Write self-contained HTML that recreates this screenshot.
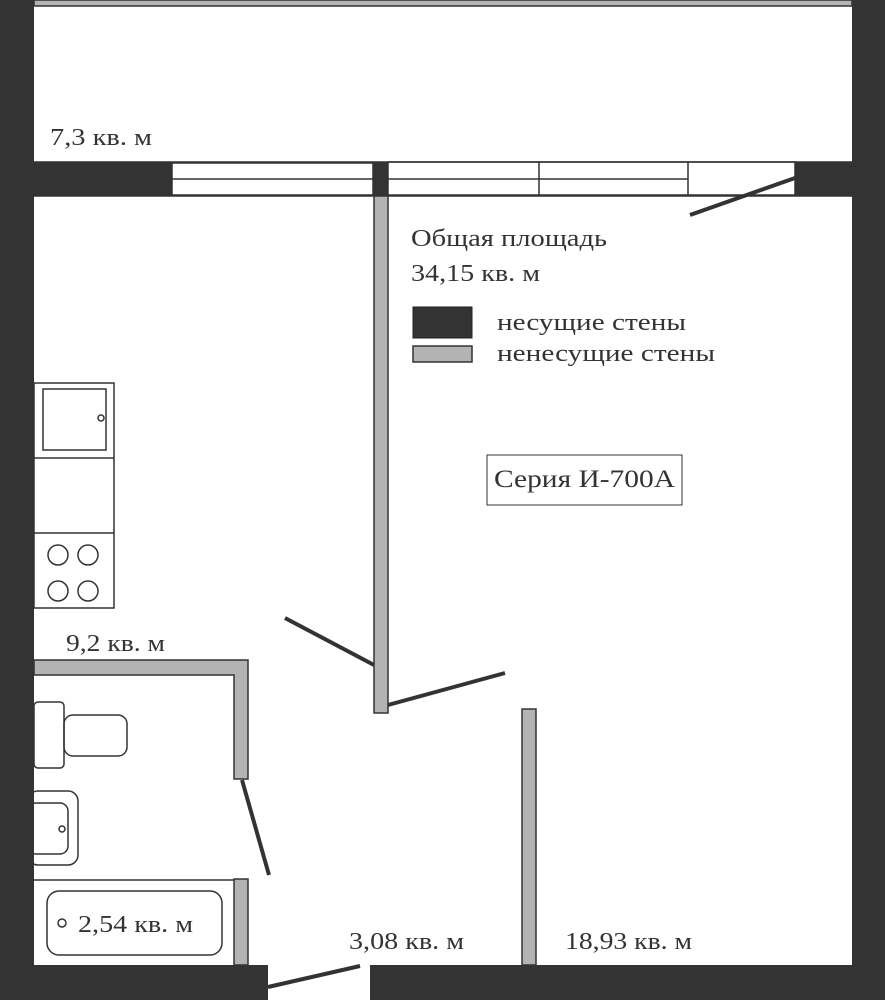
<!DOCTYPE html>
<html><head><meta charset="utf-8"><style>html,body{margin:0;padding:0;background:#fff}svg{display:block}text{font-family:"Liberation Serif",serif;fill:#333}</style></head><body>
<svg width="885" height="1000" viewBox="0 0 885 1000" xmlns="http://www.w3.org/2000/svg">
<rect width="885" height="1000" fill="#fff"/>
<rect x="34" y="0" width="818" height="6" fill="#b3b3b3" stroke="#333" stroke-width="1.5"/>
<rect x="0" y="0" width="34" height="1000" fill="#333"/>
<rect x="852" y="0" width="33" height="1000" fill="#333"/>
<rect x="34" y="162" width="138" height="34" fill="#333"/>
<rect x="795" y="162" width="57" height="34" fill="#333"/>
<rect x="373" y="162" width="15" height="34" fill="#333"/>
<g fill="#fff" stroke="#333" stroke-width="1.5">
<rect x="172" y="163" width="201" height="32"/>
<rect x="388" y="162" width="407" height="33"/>
</g>
<g stroke="#333" stroke-width="1.5">
<line x1="172" y1="179" x2="373" y2="179"/>
<line x1="388" y1="179" x2="688" y2="179"/>
<line x1="539" y1="162" x2="539" y2="195"/>
<line x1="688" y1="162" x2="688" y2="195"/>
<line x1="34" y1="162" x2="852" y2="162"/>
<line x1="34" y1="196" x2="852" y2="196"/>
</g>
<line x1="690" y1="215" x2="795" y2="178" stroke="#333" stroke-width="4"/>
<rect x="0" y="965" width="268" height="35" fill="#333"/>
<rect x="370" y="965" width="515" height="35" fill="#333"/>
<line x1="268" y1="987" x2="360" y2="966" stroke="#333" stroke-width="4"/>
<g fill="#b3b3b3" stroke="#333" stroke-width="1.5">
<rect x="374" y="196" width="14" height="517"/>
<rect x="522" y="709" width="14" height="256"/>
<path d="M34 660 H248 V779 H234 V675 H34 Z"/>
<rect x="234" y="879" width="14" height="86"/>
</g>
<g stroke="#333" stroke-width="4">
<line x1="285" y1="618" x2="374" y2="665"/>
<line x1="388" y1="705" x2="505" y2="673"/>
<line x1="242" y1="780" x2="269" y2="875"/>
</g>
<g fill="none" stroke="#333" stroke-width="1.5">
<rect x="34" y="383" width="80" height="225" fill="#fff"/>
<line x1="34" y1="458" x2="114" y2="458"/>
<line x1="34" y1="533" x2="114" y2="533"/>
<rect x="43" y="389" width="63" height="61"/>
<circle cx="101" cy="418" r="3"/>
<circle cx="58" cy="555" r="10"/>
<circle cx="88" cy="555" r="10"/>
<circle cx="58" cy="591" r="10"/>
<circle cx="88" cy="591" r="10"/>
<rect x="34" y="702" width="30" height="66" rx="4"/>
<rect x="64" y="715" width="63" height="41" rx="9"/>
<rect x="28" y="791" width="50" height="74" rx="10"/>
<rect x="28" y="803" width="40" height="51" rx="8"/>
<circle cx="62" cy="829" r="3"/>
<line x1="34" y1="880" x2="234" y2="880"/>
<rect x="47" y="891" width="175" height="64" rx="12"/>
<circle cx="62" cy="923" r="4"/>
</g>
<rect x="0" y="780" width="34" height="90" fill="#333"/>
<g font-size="24" lengthAdjust="spacingAndGlyphs">
<text x="50" y="145" textLength="102" lengthAdjust="spacingAndGlyphs">7,3 кв. м</text>
<text x="66" y="651" textLength="99" lengthAdjust="spacingAndGlyphs">9,2 кв. м</text>
<text x="78" y="932" textLength="115" lengthAdjust="spacingAndGlyphs">2,54 кв. м</text>
<text x="349" y="949" textLength="115" lengthAdjust="spacingAndGlyphs">3,08 кв. м</text>
<text x="565" y="949" textLength="127" lengthAdjust="spacingAndGlyphs">18,93 кв. м</text>
<text x="411" y="246" textLength="196" lengthAdjust="spacingAndGlyphs">Общая площадь</text>
<text x="411" y="281" textLength="129" lengthAdjust="spacingAndGlyphs">34,15 кв. м</text>
<text x="497" y="330" textLength="189" lengthAdjust="spacingAndGlyphs">несущие стены</text>
<text x="497" y="361" textLength="218" lengthAdjust="spacingAndGlyphs">ненесущие стены</text>
</g>
<rect x="413" y="307" width="59" height="31" fill="#333" stroke="#222" stroke-width="1"/>
<rect x="413" y="346" width="59" height="16" fill="#b3b3b3" stroke="#333" stroke-width="1.5"/>
<rect x="487" y="455" width="195" height="50" fill="#fff" stroke="#333" stroke-width="1"/>
<text x="494" y="487" font-size="25" textLength="181" lengthAdjust="spacingAndGlyphs">Серия И-700А</text>
</svg>
</body></html>
